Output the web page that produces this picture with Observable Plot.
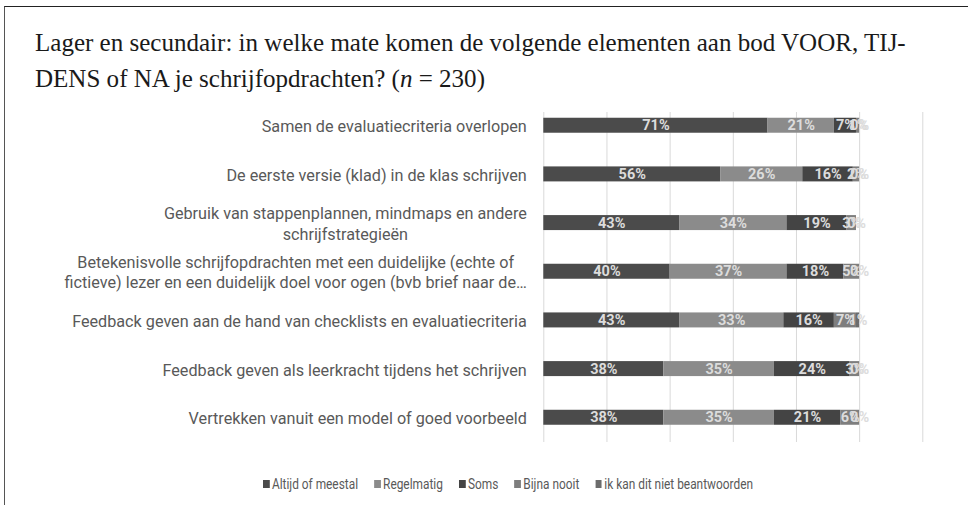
<!DOCTYPE html>
<html>
<head>
<meta charset="utf-8">
<script src="https://cdn.jsdelivr.net/npm/d3@7"></script>
<script src="https://cdn.jsdelivr.net/npm/@observablehq/plot@0.6"></script>
<style>
html, body { margin: 0; padding: 0; background: #fff; }
body { width: 968px; height: 505px; position: relative; overflow: hidden; }
#frame { position: absolute; left: 4px; top: 6px; width: 980px; height: 520px;
  border-top: 1.7px solid #222; border-left: 1.6px solid #555; pointer-events: none; }
#title { position: absolute; left: 35px; top: 25px; font-family: "Liberation Serif", serif;
  font-size: 24px; line-height: 35.5px; color: #1a1a1a; white-space: nowrap; }
#chart { position: absolute; left: 0; top: 100px; }
#legend { position: absolute; left: 263px; top: 476px; display: flex; align-items: center;
  font-family: "Liberation Sans Narrow", "Arial Narrow", Roboto, sans-serif; font-size: 14px; color: #595959; line-height: 16px; white-space: nowrap;
  transform-origin: 0 50%; }
#legend .item { display: flex; align-items: center; margin-right: 19px; }
#legend .item:last-child { margin-right: 0; }
#legend .sw { width: 7.5px; height: 7.5px; margin-right: 3px; display: inline-block; }
</style>
</head>
<body>
<div id="frame"></div>
<div id="title"><span id="t1">Lager en secundair: in welke mate komen de volgende elementen aan bod VOOR, TIJ-</span><br><span id="t2">DENS of NA je schrijfopdrachten? (<i>n</i> = 230)</span></div>
<div id="chart"></div>
<div id="legend"></div>
<script>
const categories = [
  "Samen de evaluatiecriteria overlopen",
  "De eerste versie (klad) in de klas schrijven",
  "Gebruik van stappenplannen, mindmaps en andere\nschrijfstrategieën",
  "Betekenisvolle schrijfopdrachten met een duidelijke (echte of\nfictieve) lezer en een duidelijk doel voor ogen (bvb brief naar de…",
  "Feedback geven aan de hand van checklists en evaluatiecriteria",
  "Feedback geven als leerkracht tijdens het schrijven",
  "Vertrekken vanuit een model of goed voorbeeld"
];
const series = ["Altijd of meestal", "Regelmatig", "Soms", "Bijna nooit", "ik kan dit niet beantwoorden"];
const altijdOfMeestal = [71, 56, 43, 40, 43, 38, 38];
const regelmatig      = [21, 26, 34, 37, 33, 35, 35];
const soms            = [7, 16, 19, 18, 16, 24, 21];
const bijnaNooit      = [1, 2, 3, 5, 7, 3, 6];
const kanNiet         = [0, 0, 0, 0, 1, 0, 0];
const colors = ["#4b4b4b", "#8b8b8b", "#444444", "#7e7e7e", "#6c6c6c"];
const gridTicks = [0, 20, 40, 60, 80, 100, 120];

const seriesValues = [altijdOfMeestal, regelmatig, soms, bijnaNooit, kanNiet];
const data = categories.flatMap((c, i) => series.map((s, j) => ({cat: c, series: s, value: seriesValues[j][i]})));

// fit title width
(function () {
  const cv = document.createElement("canvas").getContext("2d");
  cv.font = '24px "Liberation Serif"';
  const w = cv.measureText(document.getElementById("t1").textContent).width;
  const fs = 24 * 872 / w;
  document.getElementById("title").style.fontSize = fs + "px";
})();

const labelFont = 16.2;
const ctx = document.createElement("canvas").getContext("2d");
ctx.font = labelFont + "px Roboto";
const labelWidth = s => d3.max(s.split("\n"), l => ctx.measureText(l).width);

const chart = Plot.plot({
  width: 968,
  height: 360,
  marginLeft: 543.3,
  marginRight: 45.7,
  marginTop: 12,
  marginBottom: 18,
  style: {fontFamily: "Roboto, sans-serif", background: "transparent"},
  x: {domain: [0, 120], axis: null},
  y: {domain: categories, range: [0.9, 341.6], paddingInner: 0.692, paddingOuter: 0.346, round: false, axis: null},
  color: {domain: series, range: colors},
  marks: [
    Plot.gridX(gridTicks, {stroke: "#d9d9d9", strokeOpacity: 1, strokeWidth: 1}),
    Plot.barX(data, Plot.stackX({x: "value", y: "cat", fill: "series"})),
    Plot.text(data, Plot.stackX({x: "value", y: "cat", z: "series", text: d => d.value + "%",
      fill: "#dcdcdc", fontWeight: "bold", fontSize: 14.5})),
    ...categories.map(c => Plot.text([c], {
      x: () => 0, y: d => d, text: d => d, textAnchor: "middle",
      dx: -(17 + labelWidth(c) / 2), lineHeight: 1.25, fill: "#595959", fontSize: labelFont
    }))
  ]
});
document.getElementById("chart").appendChild(chart);

const legend = d3.select("#legend");
series.forEach((s, i) => {
  const item = legend.append("div").attr("class", "item");
  item.append("span").attr("class", "sw").style("background", colors[i]);
  item.append("span").text(s);
});
// match the reference legend span (about 490px wide)
const lw = document.getElementById("legend").getBoundingClientRect().width;
document.getElementById("legend").style.transform = `scaleX(${490 / lw})`;
</script>
</body>
</html>
